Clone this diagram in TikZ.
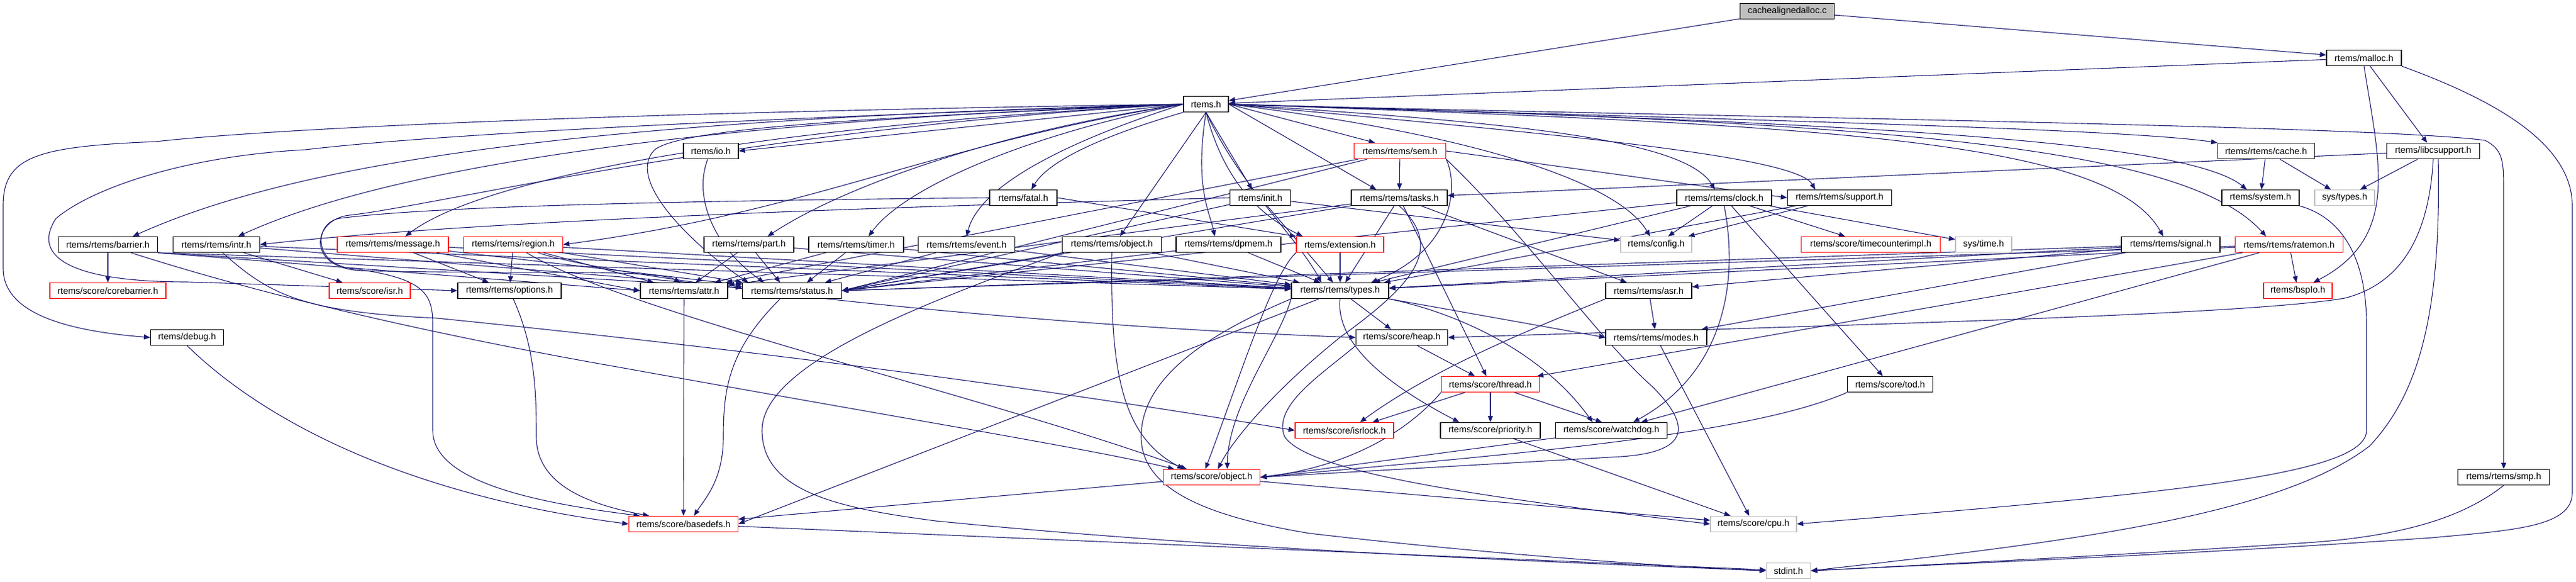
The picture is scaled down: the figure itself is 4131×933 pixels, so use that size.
\documentclass[tikz,border=0pt]{standalone}
\usepackage{fontspec}
\setmainfont{Liberation Sans}
\usetikzlibrary{arrows.meta}
\definecolor{edgec}{RGB}{25,25,112}
\definecolor{greyb}{RGB}{191,191,191}
\pgfdeclarelayer{edgelayer}
\pgfsetlayers{edgelayer,main}
\tikzset{
  hdr/.style={draw=black, line width=1.3pt, fill=white, minimum height=25pt, inner sep=0pt, font=\fontsize{14.5}{17}\selectfont, text=black},
  redhdr/.style={hdr, draw=red},
  greyhdr/.style={hdr, draw=greyb},
  roothdr/.style={hdr, fill=greyb},
  dep/.style={draw=edgec, line width=1.1pt, -{Triangle[length=10pt,width=8pt]}},
}
\begin{document}
\begin{tikzpicture}[x=1pt,y=-1pt]
\useasboundingbox (0,0) rectangle (4131,933);
% nodes
\node[roothdr, minimum width=151pt] (root) at (2866,18) {cachealignedalloc.c};
\node[hdr, minimum width=120pt] (malloc) at (3791,93) {rtems/malloc.h};
\node[hdr, minimum width=72pt] (rtems) at (1934,167) {rtems.h};
\node[hdr, minimum width=88pt] (io) at (1140,242) {rtems/io.h};
\node[redhdr, minimum width=147pt] (sem) at (2245,242) {rtems/rtems/sem.h};
\node[hdr, minimum width=155pt] (cache) at (3634,242) {rtems/rtems/cache.h};
\node[hdr, minimum width=149pt] (libc) at (3902,242) {rtems/libcsupport.h};
\node[hdr, minimum width=108pt] (fatal) at (1641,317) {rtems/fatal.h};
\node[hdr, minimum width=97pt] (init) at (2021,317) {rtems/init.h};
\node[hdr, minimum width=154pt] (tasks) at (2244,317) {rtems/rtems/tasks.h};
\node[hdr, minimum width=152pt] (clock) at (2765,317) {rtems/rtems/clock.h};
\node[hdr, minimum width=167pt] (support) at (2950,317) {rtems/rtems/support.h};
\node[hdr, minimum width=124pt] (system) at (3625,317) {rtems/system.h};
\node[greyhdr, minimum width=96pt] (systypes) at (3760,317) {sys/types.h};
\node[hdr, minimum width=159pt] (barrier) at (173,392) {rtems/rtems/barrier.h};
\node[hdr, minimum width=139pt] (intr) at (347,392) {rtems/rtems/intr.h};
\node[redhdr, minimum width=178pt] (message) at (630,392) {rtems/rtems/message.h};
\node[redhdr, minimum width=159pt] (region) at (823,392) {rtems/rtems/region.h};
\node[hdr, minimum width=144pt] (part) at (1201,392) {rtems/rtems/part.h};
\node[hdr, minimum width=152pt] (timer) at (1373,392) {rtems/rtems/timer.h};
\node[hdr, minimum width=155pt] (event) at (1550,392) {rtems/rtems/event.h};
\node[hdr, minimum width=159pt] (robject) at (1783,392) {rtems/rtems/object.h};
\node[hdr, minimum width=168pt] (dpmem) at (1970,392) {rtems/rtems/dpmem.h};
\node[redhdr, minimum width=140pt] (ext) at (2149,392) {rtems/extension.h};
\node[greyhdr, minimum width=114pt] (config) at (2656,392) {rtems/config.h};
\node[redhdr, minimum width=223pt] (tci) at (3000,392) {rtems/score/timecounterimpl.h};
\node[greyhdr, minimum width=90pt] (systime) at (3181,392) {sys/time.h};
\node[hdr, minimum width=158pt] (signal) at (3481,392) {rtems/rtems/signal.h};
\node[redhdr, minimum width=173pt] (ratemon) at (3671,392) {rtems/rtems/ratemon.h};
\node[redhdr, minimum width=186pt] (corebar) at (173,466) {rtems/score/corebarrier.h};
\node[redhdr, minimum width=130pt] (isr) at (593,466) {rtems/score/isr.h};
\node[hdr, minimum width=166pt] (options) at (817,466) {rtems/rtems/options.h};
\node[hdr, minimum width=140pt] (attr) at (1097,466) {rtems/rtems/attr.h};
\node[hdr, minimum width=159pt] (status) at (1270,466) {rtems/rtems/status.h};
\node[hdr, minimum width=156pt] (types) at (2149,466) {rtems/rtems/types.h};
\node[hdr, minimum width=138pt] (asr) at (2644,466) {rtems/rtems/asr.h};
\node[redhdr, minimum width=110pt] (bspio) at (3685,466) {rtems/bspIo.h};
\node[hdr, minimum width=117pt] (debug) at (300,541) {rtems/debug.h};
\node[hdr, minimum width=147pt] (heap) at (2248,541) {rtems/score/heap.h};
\node[hdr, minimum width=162pt] (modes) at (2656,541) {rtems/rtems/modes.h};
\node[redhdr, minimum width=157pt] (thread) at (2390,616) {rtems/score/thread.h};
\node[hdr, minimum width=137pt] (tod) at (3031,616) {rtems/score/tod.h};
\node[redhdr, minimum width=158pt] (isrlock) at (2156,690) {rtems/score/isrlock.h};
\node[hdr, minimum width=160pt] (priority) at (2390,690) {rtems/score/priority.h};
\node[hdr, minimum width=179pt] (watchdog) at (2584,690) {rtems/score/watchdog.h};
\node[redhdr, minimum width=155pt] (sobject) at (1943,765) {rtems/score/object.h};
\node[hdr, minimum width=147pt] (smp) at (4015,765) {rtems/rtems/smp.h};
\node[redhdr, minimum width=175pt] (basedefs) at (1096,840) {rtems/score/basedefs.h};
\node[greyhdr, minimum width=138pt] (cpu) at (2812,840) {rtems/score/cpu.h};
\node[greyhdr, minimum width=71pt] (stdint) at (2868,915) {stdint.h};

\begin{pgfonlayer}{edgelayer}
% root and malloc
\draw[dep] (root) -- (rtems);
\draw[dep] (root) -- (malloc);
\draw[dep] (malloc) -- (rtems);
\draw[dep] (malloc) -- (libc);
\draw[dep] (malloc.south) .. controls (3815,260) and (3850,380) .. ([xshift=25pt]bspio.north);
\draw[dep] (malloc.south east) .. controls (4000,160) and (4125,230) .. (4125,330) -- (4125,790) .. controls (4125,845) and (4030,850) .. (3900,862) .. controls (3500,890) and (3100,905) .. (stdint.east);
% rtems.h
\draw[dep] (rtems.west) .. controls (1000,190) and (500,250) .. ([xshift=40pt]barrier.north);
\draw[dep] (rtems.west) .. controls (1100,195) and (620,270) .. ([xshift=35pt]intr.north);
\draw[dep] (rtems.west) .. controls (1250,200) and (780,280) .. ([xshift=20pt]message.north);
\draw[dep] (rtems.west) .. controls (1500,230) and (1300,340) .. (region.east);
\draw[dep] (rtems.west) -- (io.east);
\draw[dep] (rtems.west) .. controls (1600,210) and (1350,300) .. ([xshift=30pt]part.north);
\draw[dep] (rtems.west) .. controls (1650,215) and (1450,300) .. ([xshift=20pt]timer.north);
\draw[dep] (rtems.west) .. controls (1700,230) and (1570,300) .. (event.north);
\draw[dep] (rtems.south west) .. controls (1760,220) and (1680,260) .. ([xshift=13pt]fatal.north);
\draw[dep] (rtems.south) -- ([xshift=13pt]robject.north);
\draw[dep] (rtems.south) .. controls (1915,300) and (1940,340) .. ([xshift=-22pt]dpmem.north);
\draw[dep] (rtems.south) -- ([xshift=-13pt]init.north);
\draw[dep] (rtems.south) .. controls (1965,300) and (2030,350) .. ([xshift=-60pt]ext.north);
\draw[dep] (rtems.east) -- ([xshift=-40pt]sem.north);
\draw[dep] (rtems.east) -- ([xshift=-37pt]tasks.north);
\draw[dep] (rtems.east) .. controls (2400,220) and (2600,300) .. ([xshift=-10pt]config.north);
\draw[dep] (rtems.east) .. controls (2400,195) and (2700,220) .. ([xshift=-15pt]clock.north);
\draw[dep] (rtems.east) .. controls (2500,215) and (2880,250) .. ([xshift=-39pt]support.north);
\draw[dep] (rtems.east) .. controls (2900,200) and (3380,220) .. ([xshift=-12pt]signal.north);
\draw[dep] (rtems.east) .. controls (3000,195) and (3500,230) .. ([xshift=-37pt]ratemon.north);
\draw[dep] (rtems.east) .. controls (2700,190) and (3400,205) .. (cache.north west);
\draw[dep] (rtems.east) .. controls (2900,195) and (3500,220) .. ([xshift=-22pt]system.north);
\draw[dep] (rtems.east) .. controls (2600,185) and (3800,200) .. (3985,225) .. controls (4015,240) and (4015,260) .. (4015,310) -- (smp.north);
\draw[dep] (rtems.south) .. controls (1990,300) and (2080,380) .. ([xshift=-30pt]types.north);
\draw[dep] (rtems.west) .. controls (1500,185) and (1100,200) .. (1050,240) .. controls (1000,290) and (1120,400) .. ([xshift=-70pt]status.north);
\draw[dep] (rtems.west) .. controls (1200,205) and (700,330) .. (560,345) .. controls (500,352) and (490,430) .. (580,434) .. controls (800,440) and (1050,430) .. ([xshift=-6pt]attr.north);
\draw[dep] (rtems.west) .. controls (1200,190) and (700,215) .. (490,240) .. controls (300,250) and (150,300) .. (90,350) .. controls (50,410) and (110,452) .. (300,452) -- (options.west);
\draw[dep] (rtems.west) .. controls (1000,180) and (450,205) .. (250,227) .. controls (60,235) and (5,250) .. (5,330) -- (5,430) .. controls (5,500) and (100,530) .. (debug.west);
% fatal
\draw[dep] (fatal.west) .. controls (1100,322) and (700,330) .. (545,350) .. controls (505,356) and (500,420) .. (560,430) .. controls (680,445) and (694,470) .. (694,520) -- (694,690) .. controls (694,770) and (850,805) .. ([xshift=-70pt]basedefs.north);
\draw[dep] (fatal.east) -- (ext.north west);
% barrier, intr, message, region
\draw[dep] (barrier) -- (corebar);
\draw[dep] (barrier.south east) -- (attr.west);
\draw[dep] (barrier.south east) -- (status);
\draw[dep] (barrier.south east) -- (types);
\draw[dep] ([xshift=37pt]barrier.south) .. controls (350,450) and (600,520) .. (1000,590) .. controls (1500,680) and (1750,720) .. ([xshift=-60pt]sobject.north);
\draw[dep] (intr) -- (isr);
\draw[dep] ([xshift=10pt]intr.south) .. controls (430,470) and (480,500) .. (700,510) .. controls (1400,580) and (1900,660) .. (isrlock.west);
\draw[dep] (intr) -- (types);
\draw[dep] (intr) -- (status);
\draw[dep] (message) -- (options);
\draw[dep] (message) -- (attr.west);
\draw[dep] (message) -- (status);
\draw[dep] (message) -- (types);
\draw[dep] (region) -- (options);
\draw[dep] (region) -- (attr);
\draw[dep] (region) -- (status);
\draw[dep] (region) -- (types);
\draw[dep] (region) .. controls (1000,450) and (1600,520) .. (heap.west);
\draw[dep] (region) .. controls (1000,500) and (1600,640) .. ([xshift=-40pt]sobject.north);
% io, part, timer, event, objects
\draw[dep] (io) .. controls (1110,320) and (1150,400) .. ([xshift=-45pt]status.north);
\draw[dep] (part) -- (attr);
\draw[dep] (part) -- ([xshift=-19pt]status.north);
\draw[dep] (part) -- (types);
\draw[dep] (timer) -- (attr);
\draw[dep] (timer) -- ([xshift=24pt]status.north);
\draw[dep] (timer) -- (types);
\draw[dep] (event) -- ([xshift=53pt]status.north);
\draw[dep] (event) -- (types);
\draw[dep] (robject) -- (status.east);
\draw[dep] (robject) -- (types);
\draw[dep] (robject.south) .. controls (1780,600) and (1800,700) .. ([xshift=-45pt]sobject.north);
\draw[dep] (robject.south west) .. controls (1500,480) and (1222,580) .. (1222,690) .. controls (1222,790) and (1350,815) .. (1500,835) .. controls (2000,885) and (2600,905) .. (stdint.west);
\draw[dep] (dpmem) -- (status.east);
\draw[dep] (dpmem) -- (types);
% init, sem, tasks, extension
\draw[dep] (init) -- (config);
\draw[dep] (init.west) .. controls (1500,330) and (800,350) .. (intr.east);
\draw[dep] (init) -- (types);
\draw[dep] (init) -- (status.east);
\draw[dep] (sem) -- (attr);
\draw[dep] (sem) -- (status.east);
\draw[dep] (sem) -- (tasks);
\draw[dep] (sem.south east) .. controls (2340,300) and (2330,400) .. ([xshift=50pt]types.north);
\draw[dep] (sem.south east) .. controls (2450,380) and (2560,540) .. (2650,620) .. controls (2720,690) and (2700,725) .. (2600,732) -- (sobject.east);
\draw[dep] (sem.east) -- (support.west);
\draw[dep] (tasks) -- (attr);
\draw[dep] (tasks) -- (status.east);
\draw[dep] (tasks) -- (types);
\draw[dep] (tasks) -- (asr);
\draw[dep] (tasks) -- (thread);
\draw[dep] (tasks.south) .. controls (2320,400) and (2260,460) .. (2150,540) .. controls (2050,620) and (1980,700) .. ([xshift=10pt]sobject.north);
\draw[dep] (ext) -- (types);
\draw[dep] (ext.south west) .. controls (2040,440) and (1990,600) .. ([xshift=-10pt]sobject.north);
% clock, support, signal, ratemon
\draw[dep] (clock) -- (config);
\draw[dep] (clock) -- (status.east);
\draw[dep] (clock) -- (types);
\draw[dep] (clock) -- (tci);
\draw[dep] (clock) -- (systime);
\draw[dep] (clock) -- (tod);
\draw[dep] (clock.south) .. controls (2790,460) and (2760,600) .. ([xshift=35pt]watchdog.north);
\draw[dep] (support) -- (config);
\draw[dep] (support) -- (types);
\draw[dep] (signal) -- (asr);
\draw[dep] (signal) -- (modes);
\draw[dep] (signal) -- (status.east);
\draw[dep] (signal) -- (types);
\draw[dep] (ratemon) -- (bspio);
\draw[dep] (ratemon) -- (watchdog);
\draw[dep] (ratemon) -- (thread);
\draw[dep] (ratemon) -- (status.east);
\draw[dep] (ratemon) -- (types);
% cache, system, libcsupport, smp
\draw[dep] (cache) -- (system);
\draw[dep] (cache) -- (systypes);
\draw[dep] (system.south east) .. controls (3760,350) and (3795,420) .. (3795,520) -- (3795,690) .. controls (3795,760) and (3500,790) .. (cpu.east);
\draw[dep] (libc) -- (systypes);
\draw[dep] (libc) -- (tasks);
\draw[dep] (libc.south) .. controls (3895,380) and (3850,455) .. (3760,478) .. controls (3600,505) and (3000,520) .. (heap.east);
\draw[dep] ([xshift=8pt]libc.south) .. controls (3915,500) and (3880,630) .. (3800,715) .. controls (3650,830) and (3300,870) .. (stdint.east);
\draw[dep] (smp.south) .. controls (3950,830) and (3850,860) .. (3700,870) .. controls (3400,890) and (3100,905) .. (stdint.east);
% lower layers
\draw[dep] (debug.south) .. controls (450,700) and (700,800) .. (basedefs.west);
\draw[dep] ([xshift=6pt]options.south) .. controls (860,560) and (860,640) .. (860,700) .. controls (860,780) and (950,810) .. ([xshift=-55pt]basedefs.north);
\draw[dep] (attr) -- (basedefs);
\draw[dep] ([xshift=-19pt]status.south) .. controls (1170,560) and (1160,620) .. (1160,700) .. controls (1160,770) and (1130,800) .. ([xshift=17pt]basedefs.north);
\draw[dep] (types) -- (basedefs.east);
\draw[dep] (types) -- (heap);
\draw[dep] (types.south east) -- (modes.west);
\draw[dep] (types.south) .. controls (2140,560) and (2250,630) .. ([xshift=-50pt]priority.north);
\draw[dep] (types.south east) .. controls (2330,500) and (2470,560) .. ([xshift=-30pt]watchdog.north);
\draw[dep] (types.south west) .. controls (2050,550) and (1970,650) .. ([xshift=25pt]sobject.north);
\draw[dep] (types.south west) .. controls (1950,530) and (1830,600) .. (1830,700) .. controls (1830,790) and (1950,830) .. (2100,855) .. controls (2400,890) and (2700,910) .. (stdint.west);
\draw[dep] (asr) -- (modes);
\draw[dep] (asr.south west) .. controls (2450,530) and (2300,590) .. ([xshift=25pt]isrlock.north);
\draw[dep] (modes) -- (cpu);
\draw[dep] (heap) -- (thread);
\draw[dep] (heap.south west) .. controls (2120,600) and (2040,650) .. (2060,700) .. controls (2100,760) and (2400,800) .. (cpu.west);
\draw[dep] (thread) -- ([xshift=45pt]isrlock.north);
\draw[dep] (thread) -- (priority);
\draw[dep] (thread) -- ([xshift=-15pt]watchdog.north);
\draw[dep] (thread.south west) .. controls (2250,700) and (2150,750) .. (sobject.east);
\draw[dep] (priority) -- (cpu);
\draw[dep] (watchdog) -- (sobject.east);
\draw[dep] (tod.south west) .. controls (2800,700) and (2400,730) .. (sobject.east);
\draw[dep] (sobject) -- (basedefs);
\draw[dep] (sobject) -- (cpu);
\draw[dep] (basedefs) -- (stdint);
\end{pgfonlayer}
\end{tikzpicture}
\end{document}
